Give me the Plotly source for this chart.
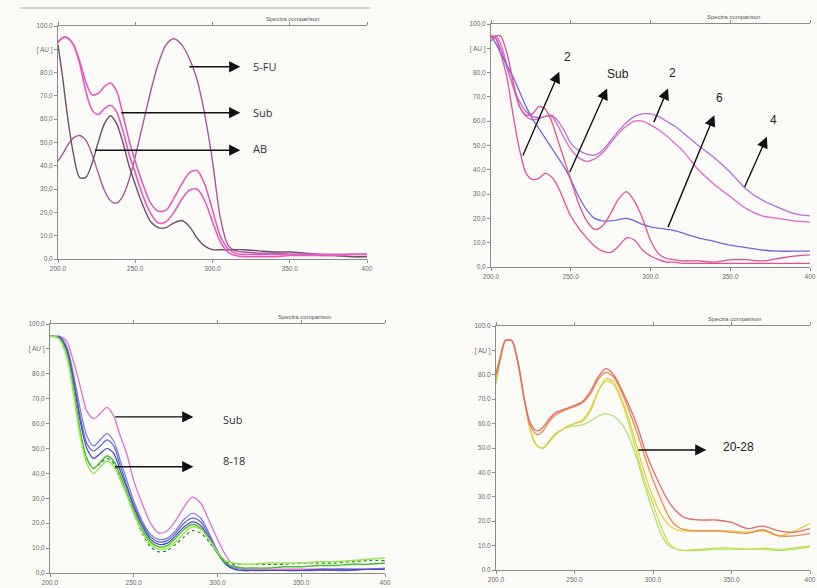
import plotly.graph_objects as go

# ---------------- data ----------------
WL = [200, 203, 206, 210, 214, 218, 222, 226, 230, 234, 238, 242, 246, 250, 255, 260, 265, 270,
      275, 280, 285, 290, 295, 300, 305, 310, 315, 320, 330, 340, 350, 360, 370, 380, 390, 400]

# Panel 1 : 5-FU, AB, Sub
p1_5fu = [42, 45, 48.5, 52, 53, 51, 45, 37, 29.5, 25, 24, 27, 34, 44, 58, 72, 84, 92,
          94.5, 92, 86, 77, 62, 42, 18, 6, 3.5, 3, 2.5, 2.5, 2, 2, 1.5, 1.5, 1, 1]
p1_ab = [92, 78, 62, 45, 35, 35, 41, 50, 58, 61.5, 58, 50, 40, 32, 23, 16, 13.5, 13.5,
         15.5, 16.5, 14, 9, 5.5, 4, 4, 4, 4, 4, 3.5, 3, 3, 2.5, 2, 1.5, 1, 1]
p1_sub_a = [93, 95, 95, 92, 85, 76, 70.5, 71, 74, 75.5, 72, 62, 51, 42, 32, 24, 20.5, 21,
            26, 32, 37, 38, 32, 21, 10, 4.5, 2.5, 2, 2, 2, 2, 2, 2, 2, 2, 2]
p1_sub_b = [93, 95, 95, 92, 84, 72, 64, 62, 64.5, 66, 63, 55, 45, 37, 27, 19.5, 15.5, 16,
            20, 25.5, 29.5, 30, 25, 16, 7.5, 3, 1.5, 1, 1, 1, 1.5, 1.5, 1.5, 1.5, 2, 2]

# Panel 2 : samples 2, Sub, 2, 6, 4
p2_s2_low = [95, 94, 88, 78, 62, 48, 38.5, 36, 36.5, 38.5, 37, 33, 27, 21, 16, 12, 8.5, 6.5,
             6, 8.5, 12, 11, 7, 4.5, 3, 2, 2, 1.5, 1.5, 1.5, 1.5, 1.5, 1.5, 1.5, 1.5, 1.5]
p2_sub = [93, 95, 95, 88, 76, 66, 62.5, 63, 66, 65, 60, 52, 44, 36, 26, 19, 15.5, 17,
          22, 28, 31, 27, 20, 11, 5.5, 3.5, 3, 2.5, 2.5, 2, 3, 3, 2.5, 3.5, 4.5, 5]
p2_s2_broad = [95, 95, 92, 83, 74, 66, 62, 60.5, 61, 62, 62, 58, 53, 48.5, 45, 43.5, 44.5, 47,
               51, 55, 58, 60, 60, 58.5, 56.5, 54, 51, 48, 40, 34, 29, 24, 21, 20, 19, 18.5]
p2_s6 = [95, 92, 88, 83, 78, 72, 66, 61, 57, 53, 49, 45, 41, 36, 29, 23.5, 20, 19,
         19, 19.5, 20, 19, 17.5, 16.5, 16, 15.5, 15, 14, 12, 10.5, 9, 8, 7, 6.5, 6.5, 6.5]
p2_s4 = [95, 94, 90, 82, 74, 68, 64, 62, 61.5, 62, 62.5, 60, 56, 51, 48, 46.5, 46, 48,
         52, 56, 59.5, 62, 63, 63, 62, 60, 58, 55.5, 50, 45, 39, 32, 27.5, 24.5, 22, 21]

# Panel 3 : Sub and fractions 8-18
p3_sub = [95, 95, 95, 93, 85, 75, 65, 62, 64, 66.5, 63, 55, 47.5, 37, 28, 20, 16, 17,
          21, 26.5, 30.5, 28, 21, 13.5, 7, 3, 2, 1.5, 1.5, 1.5, 1.5, 1.5, 1.5, 1.5, 1.5, 1.5]
p3_f1 = [95, 95, 95, 91, 80, 66, 55, 51, 53.5, 56, 53, 45, 37, 29, 21, 15.5, 13.5, 14,
         17, 21.5, 24, 22, 16, 9, 4, 2, 1.5, 1, 1, 1, 1, 1, 1.5, 1.5, 1.5, 2]
p3_f2 = [95, 95, 94.5, 90, 78, 63, 52, 49, 51, 53.5, 51, 43, 35, 27.5, 20, 14.5, 12.5, 13,
         16, 20, 22, 20.5, 15, 8.5, 3.5, 1.5, 1, 1, 1, 1, 1, 1, 1, 1, 1.5, 1.5]
p3_f3 = [95, 95, 94.5, 89.5, 77, 61, 50, 46, 48, 50, 48, 41, 34, 26.5, 19, 13.5, 11.5, 12,
         15, 18.5, 20.5, 19, 14, 8, 3.5, 1.5, 1, 1, 1, 1, 1, 1.5, 1.5, 1.5, 1.5, 1.5]
p3_f4 = [95, 95, 94, 88, 74, 57, 46, 42, 44.5, 47, 45, 39, 32, 25, 17.5, 12.5, 10.5, 11,
         14, 17.5, 19.5, 18, 13.5, 8, 4, 2.5, 2, 2, 2, 2.5, 2.5, 3, 3, 3.5, 3.5, 4]
p3_f5 = [95, 95, 93.5, 87, 72, 55, 44, 40, 42.5, 45, 43, 37.5, 31, 24, 16.5, 11.5, 9.5, 10,
         12.5, 16, 18.5, 17.5, 13.5, 8.5, 5, 4, 3.5, 3.5, 4, 4, 4, 4.5, 4.5, 5, 5.5, 6]
p3_f6 = [95, 95, 93.5, 87, 73, 57, 46, 42, 44, 46, 44, 38, 31.5, 24, 16, 10.5, 8.5, 9,
         11.5, 14.5, 17, 16, 12.5, 8, 4.5, 3.5, 3.5, 3.5, 3.5, 3.5, 4, 4, 4, 4.5, 5, 5]

# Panel 4 : fractions 20-28
p4_red = [80, 88, 94, 94, 85, 70, 60, 57, 58.5, 62, 64.5, 65.5, 66.5, 67.5, 69, 73, 79, 82.5,
          80, 74, 67, 59, 49, 41, 34, 28, 24, 21.5, 20.5, 20.5, 19.5, 17, 18, 16, 15.5, 17]
p4_orange = [80, 88, 94, 94, 85, 70, 59, 55.5, 57, 61, 63.5, 65, 66, 67, 68.5, 72, 78, 81,
             79, 73, 65, 56, 46, 37, 29, 22, 18, 16.5, 16, 16, 15.5, 15, 16.5, 14, 14, 15]
p4_yellow = [78, 87, 94, 94, 85, 70, 57, 51, 50, 52.5, 55.5, 57.5, 59, 60, 61, 65, 73, 78.5,
             77, 70, 61, 50, 39, 30, 23, 18.5, 16.5, 16, 16, 16, 16, 15.5, 16, 14, 16, 19]
p4_ygreen = [78, 87, 94, 94, 85, 70, 57, 51, 50, 52.5, 55.5, 57.5, 59, 60, 61.5, 66, 73, 77.5,
             76, 69, 59, 47, 36, 27, 18, 11, 8.5, 8, 8.5, 9, 9, 8.5, 9, 8.5, 9, 10]
p4_lgreen = [76, 86, 94, 94, 85, 70, 57, 51, 50, 53, 56, 57.5, 58.5, 59, 59.5, 61, 63, 64,
             63, 60, 54, 45, 34, 24, 15, 10, 8.5, 8, 8, 8.5, 8.5, 8.5, 8.5, 8, 8.5, 9.5]

Y_TICKS = [0, 10, 20, 30, 40, 50, 60, 70, 80, 90, 100]
Y_TEXT_COMMA = ["0,0", "10,0", "20,0", "30,0", "40,0", "50,0", "60,0", "70,0", "80,0", "[ AU ]", "100,0"]
Y_TEXT_DOT = ["0.0", "10.0", "20.0", "30.0", "40.0", "50.0", "60.0", "70.0", "80.0", "[ AU ]", "100.0"]
X_TICKS = [200, 250, 300, 350, 400]
X_TEXT = ["200.0", "250.0", "300.0", "350.0", "400"]

# ---------------- figure ----------------
fig = go.Figure()

def add(series, color, n, width=1.3, dash="solid"):
    fig.add_trace(go.Scatter(
        x=WL, y=series, mode="lines",
        line=dict(color=color, width=width, shape="spline", smoothing=0.8, dash=dash),
        xaxis="x" if n == 1 else f"x{n}", yaxis="y" if n == 1 else f"y{n}",
        showlegend=False, hoverinfo="skip"))

# panel 1
add(p1_5fu, "#a8589a", 1, 1.4)
add(p1_ab, "#6e5066", 1, 1.4)
add(p1_sub_a, "#e25cc0", 1, 1.6)
add(p1_sub_b, "#e25cc0", 1, 1.6)
# panel 2
add(p2_s4, "#b070d8", 2)
add(p2_s2_broad, "#e066c8", 2)
add(p2_s6, "#7068e0", 2)
add(p2_sub, "#e2508e", 2)
add(p2_s2_low, "#e0509a", 2)
# panel 3
add(p3_sub, "#e070d0", 3, 1.3)
add(p3_f1, "#7a78e0", 3, 1.2)
add(p3_f2, "#5a62d8", 3, 1.2)
add(p3_f3, "#4848b8", 3, 1.2)
add(p3_f6, "#2e7a3a", 3, 1.2, "dot")
add(p3_f4, "#46c030", 3, 1.4)
add(p3_f5, "#96e850", 3, 1.4)
# panel 4
add(p4_lgreen, "#a8e070", 4, 1.2)
add(p4_ygreen, "#c8e040", 4, 1.2)
add(p4_yellow, "#e8c838", 4, 1.2)
add(p4_orange, "#f08848", 4, 1.3)
add(p4_red, "#e46a6a", 4, 1.3)

tick_font = dict(family="Liberation Sans, Arial, sans-serif", size=6.5, color="#6a6a6a")
ax_common = dict(showgrid=False, zeroline=False, showline=True, linecolor="#8a8a8a",
                 linewidth=1, ticks="outside", ticklen=3, tickcolor="#8a8a8a",
                 tickfont=tick_font, automargin=False, fixedrange=True)

doms = {
    1: dict(x=[58 / 817, 367 / 817], y=[1 - 259 / 588, 1 - 26 / 588], xr=[200, 400], yt=Y_TEXT_COMMA),
    2: dict(x=[491 / 817, 810 / 817], y=[1 - 267 / 588, 1 - 24 / 588], xr=[200, 400], yt=Y_TEXT_COMMA),
    3: dict(x=[50 / 817, 385 / 817], y=[1 - 573 / 588, 1 - 324 / 588], xr=[200, 400], yt=Y_TEXT_COMMA),
    4: dict(x=[496 / 817, 810 / 817], y=[1 - 570 / 588, 1 - 326 / 588], xr=[200, 400], yt=Y_TEXT_DOT),
}
for n, d in doms.items():
    xs = "xaxis" if n == 1 else f"xaxis{n}"
    ys = "yaxis" if n == 1 else f"yaxis{n}"
    yid = "y" if n == 1 else f"y{n}"
    xid = "x" if n == 1 else f"x{n}"
    fig.update_layout({
        xs: dict(ax_common, domain=d["x"], range=d["xr"], anchor=yid, mirror="ticks",
                 tickvals=X_TICKS, ticktext=X_TEXT),
        ys: dict(ax_common, domain=d["y"], range=[0, 100], anchor=xid,
                 tickvals=Y_TICKS, ticktext=d["yt"]),
    })
    fig.add_annotation(x=352, y=100, xref=xid, yref=yid, yanchor="bottom", yshift=2,
                       text="Spectra comparison", showarrow=False,
                       font=dict(family="Liberation Sans, Arial, sans-serif", size=6, color="#555"))

lab_font = dict(family="Open Sans, Liberation Sans, sans-serif", size=11, color="#333")
num_font = dict(family="Liberation Sans, Arial, sans-serif", size=12, color="#222")

def arrow(n, x0, y0, x1, y1):
    xid = "x" if n == 1 else f"x{n}"
    yid = "y" if n == 1 else f"y{n}"
    fig.add_annotation(x=x1, y=y1, ax=x0, ay=y0, xref=xid, yref=yid, axref=xid, ayref=yid,
                       text="", showarrow=True, arrowhead=2, arrowsize=1.6, arrowwidth=1.4,
                       arrowcolor="#111")

def label(n, x, y, t, font, anchor="left"):
    xid = "x" if n == 1 else f"x{n}"
    yid = "y" if n == 1 else f"y{n}"
    fig.add_annotation(x=x, y=y, xref=xid, yref=yid, text=t, showarrow=False,
                       xanchor=anchor, font=font)

# panel 1 arrows
arrow(1, 284, 82.5, 318, 82.5); label(1, 325, 82.5, "5-FU", lab_font)
arrow(1, 240, 62.8, 318, 62.8); label(1, 325, 62.8, "Sub", lab_font)
arrow(1, 223, 46.7, 318, 46.7); label(1, 325, 47.5, "AB", lab_font)
# panel 2 arrows
arrow(2, 219.6, 45.3, 242.8, 80.4); label(2, 248, 86.5, "2", num_font, "center")
arrow(2, 249, 38.5, 272.8, 73.5); label(2, 279.5, 79.5, "Sub", num_font, "center")
arrow(2, 301.7, 59, 311, 73.5); label(2, 313.5, 80, "2", num_font, "center")
arrow(2, 310.6, 15.8, 340, 62.5); label(2, 343.5, 69.5, "6", num_font, "center")
arrow(2, 358.6, 32.3, 373, 53.6); label(2, 377, 60.5, "4", num_font, "center")
# panel 3 arrows
arrow(3, 238, 62.7, 285.6, 62.7); label(3, 302, 61.5, "Sub", lab_font)
arrow(3, 238, 42.7, 285.6, 42.7); label(3, 302, 45, "8-18", lab_font)
# panel 4 arrow
arrow(4, 289.7, 49.2, 334, 49.2); label(4, 343, 50.5, "20-28", num_font)

# top decorative rule of the page
fig.add_shape(type="line", xref="paper", yref="paper", x0=20 / 817, x1=370 / 817,
              y0=1 - 8 / 588, y1=1 - 8 / 588, line=dict(color="#b0b0b0", width=1))

fig.update_layout(width=817, height=588, margin=dict(l=0, r=0, t=0, b=0),
                  paper_bgcolor="#fbfbf8", plot_bgcolor="rgba(0,0,0,0)")

fig.write_html("out.html", config={"displayModeBar": False},
               post_script="document.body.style.margin='0';document.body.style.overflow='hidden';")
